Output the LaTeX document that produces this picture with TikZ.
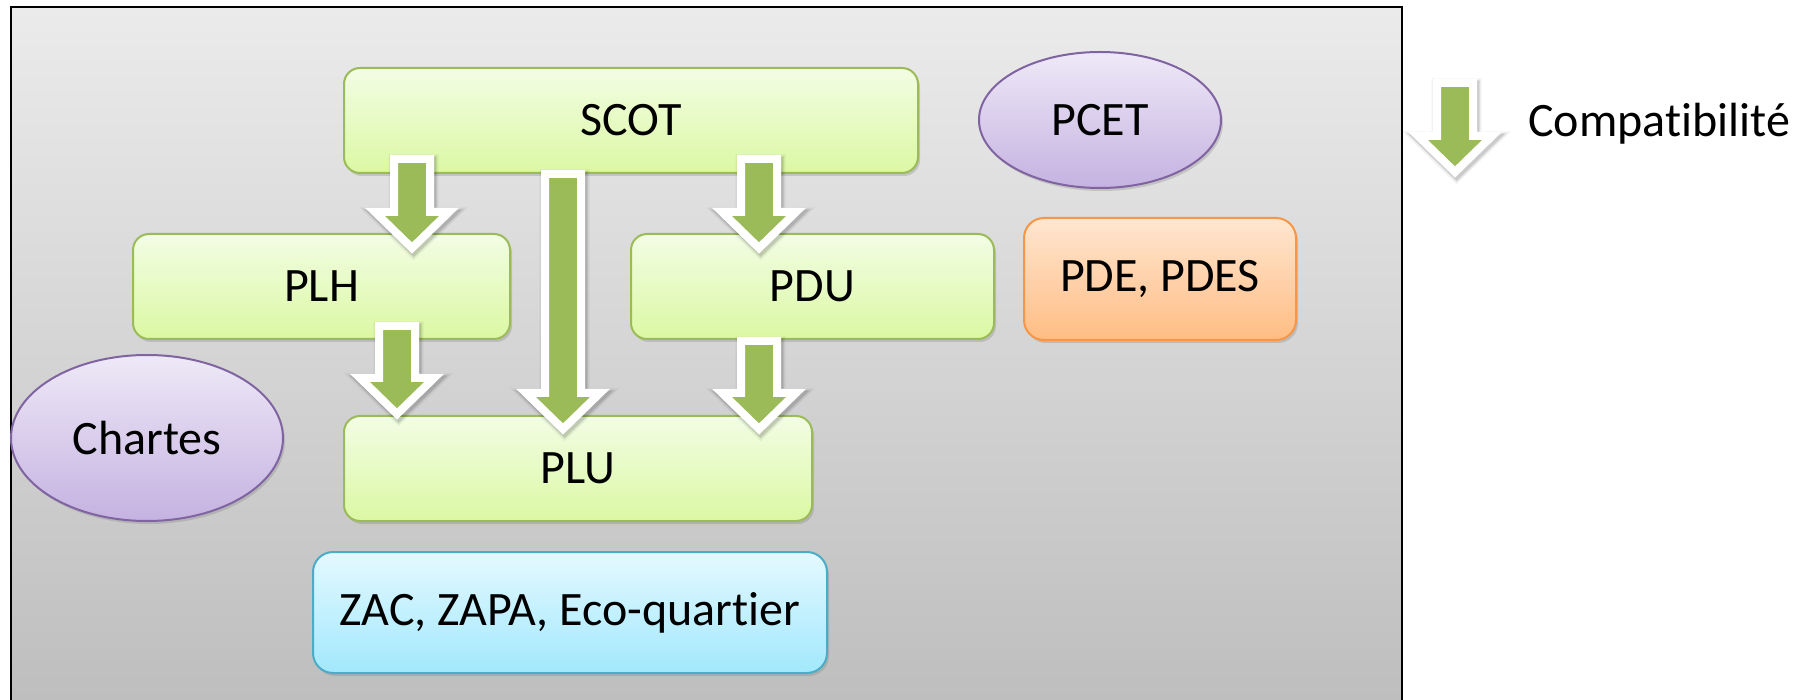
\documentclass[tikz,border=0pt]{standalone}
\usepackage{fontspec}
\setmainfont{Carlito}[Ligatures=NoCommon]
\usetikzlibrary{shapes.geometric,shadows,calc}
\definecolor{grnline}{HTML}{9BBB59}
\definecolor{grntop}{HTML}{F2FDE4}
\definecolor{grnbot}{HTML}{DBF8A3}
\definecolor{arrgreen}{HTML}{9BBB59}
\definecolor{purline}{HTML}{8064A2}
\definecolor{purtop}{HTML}{EEE9F7}
\definecolor{purbot}{HTML}{C5B2E1}
\definecolor{orgline}{HTML}{F79646}
\definecolor{orgtop}{HTML}{FFE6D0}
\definecolor{orgbot}{HTML}{FFBD84}
\definecolor{blueline}{HTML}{4BACC6}
\definecolor{bluetop}{HTML}{E4F9FF}
\definecolor{bluebot}{HTML}{A2E8FD}
\definecolor{frametop}{HTML}{EBEBEB}
\definecolor{framebot}{HTML}{BEBEBE}
\newcommand\fatarrow[2]{\path[fatarr] let \p1=(#1), \p2=(#2) in
  (\x1-9pt,\y1) -- (\x1+9pt,\y1) -- (\x1+9pt,\y2+18pt) -- (\x1+18.5pt,\y2+18pt)
  -- (\x2,\y2) -- (\x1-18.5pt,\y2+18pt) -- (\x1-9pt,\y2+18pt) -- cycle;}
\begin{document}
\begin{tikzpicture}[x=0.5pt,y=-0.5pt,
  lbl/.style={font=\fontsize{24}{28}\selectfont},
  box/.style={rectangle, rounded corners=8pt, line width=1pt, inner sep=0pt, lbl,
    drop shadow={shadow xshift=1pt, shadow yshift=-1.5pt, opacity=0.3}},
  greenbox/.style={box, draw=grnline, top color=grntop, bottom color=grnbot},
  orangebox/.style={box, rounded corners=10pt, draw=orgline, top color=orgtop, bottom color=orgbot},
  bluebox/.style={box, rounded corners=10pt, draw=blueline, top color=bluetop, bottom color=bluebot},
  purpleell/.style={ellipse, inner sep=0pt, line width=1pt, lbl, draw=purline, top color=purtop, bottom color=purbot,
    drop shadow={shadow xshift=1pt, shadow yshift=-1.5pt, opacity=0.3}},
  shd/.style={draw=black, draw opacity=#1, line join=miter, transform canvas={shift={(0.8pt,-1.2pt)}}},
  fatarr/.style={fill=arrgreen, draw=white, line width=4pt, line join=miter,
    preaction={shd=0.05, line width=7pt},
    preaction={shd=0.07, line width=5.5pt},
    preaction={shd=0.09, line width=4.5pt}}
]
\useasboundingbox (0,0) rectangle (1801,700);
\clip (0,0) rectangle (1801,700);
\fill[fill=white] (0,0) rectangle (1801,700);
% frame
\shade[top color=frametop, bottom color=framebot] (10.5,7) rectangle (1402,700);
\draw[line width=1pt] (10.5,710) -- (10.5,7) -- (1402,7) -- (1402,710);
% boxes
\node[greenbox, minimum width=287pt, minimum height=52.5pt] (scot) at (631,120.5) {SCOT};
\node[greenbox, minimum width=188.5pt, minimum height=52.5pt] (plh) at (321.5,286.5) {PLH};
\node[greenbox, minimum width=181.5pt, minimum height=52.5pt] (pdu) at (812.5,286.5) {PDU};
\node[greenbox, minimum width=234pt, minimum height=52.5pt] (plu) at (578,468.5) {PLU};
\node[bluebox, minimum width=257pt, minimum height=60.5pt] (zac) at (570,612.5) {ZAC, ZAPA, Eco-quartier};
\node[orangebox, minimum width=136pt, minimum height=61pt] (pde) at (1160,279) {PDE, PDES};
\node[purpleell, minimum width=121pt, minimum height=68pt] (pcet) at (1100,120) {PCET};
\node[purpleell, minimum width=136pt, minimum height=83pt] (chartes) at (147,438) {Chartes};
% arrow end points
\coordinate (a1s) at (412,159);  \coordinate (a1e) at (412,248);
\coordinate (a2s) at (563,174);  \coordinate (a2e) at (563,429);
\coordinate (a3s) at (759,159);  \coordinate (a3e) at (759,248);
\coordinate (a4s) at (397,326);  \coordinate (a4e) at (397,414);
\coordinate (a5s) at (759,341);  \coordinate (a5e) at (759,429);
\coordinate (lgs) at (1455,83);  \coordinate (lge) at (1455,172);
\fatarrow{a1s}{a1e}
\fatarrow{a2s}{a2e}
\fatarrow{a3s}{a3e}
\fatarrow{a4s}{a4e}
\fatarrow{a5s}{a5e}
\fatarrow{lgs}{lge}
\node[lbl, anchor=base west, inner sep=0pt] (compat) at (1528,137) {Compatibilité};
\end{tikzpicture}
\end{document}
